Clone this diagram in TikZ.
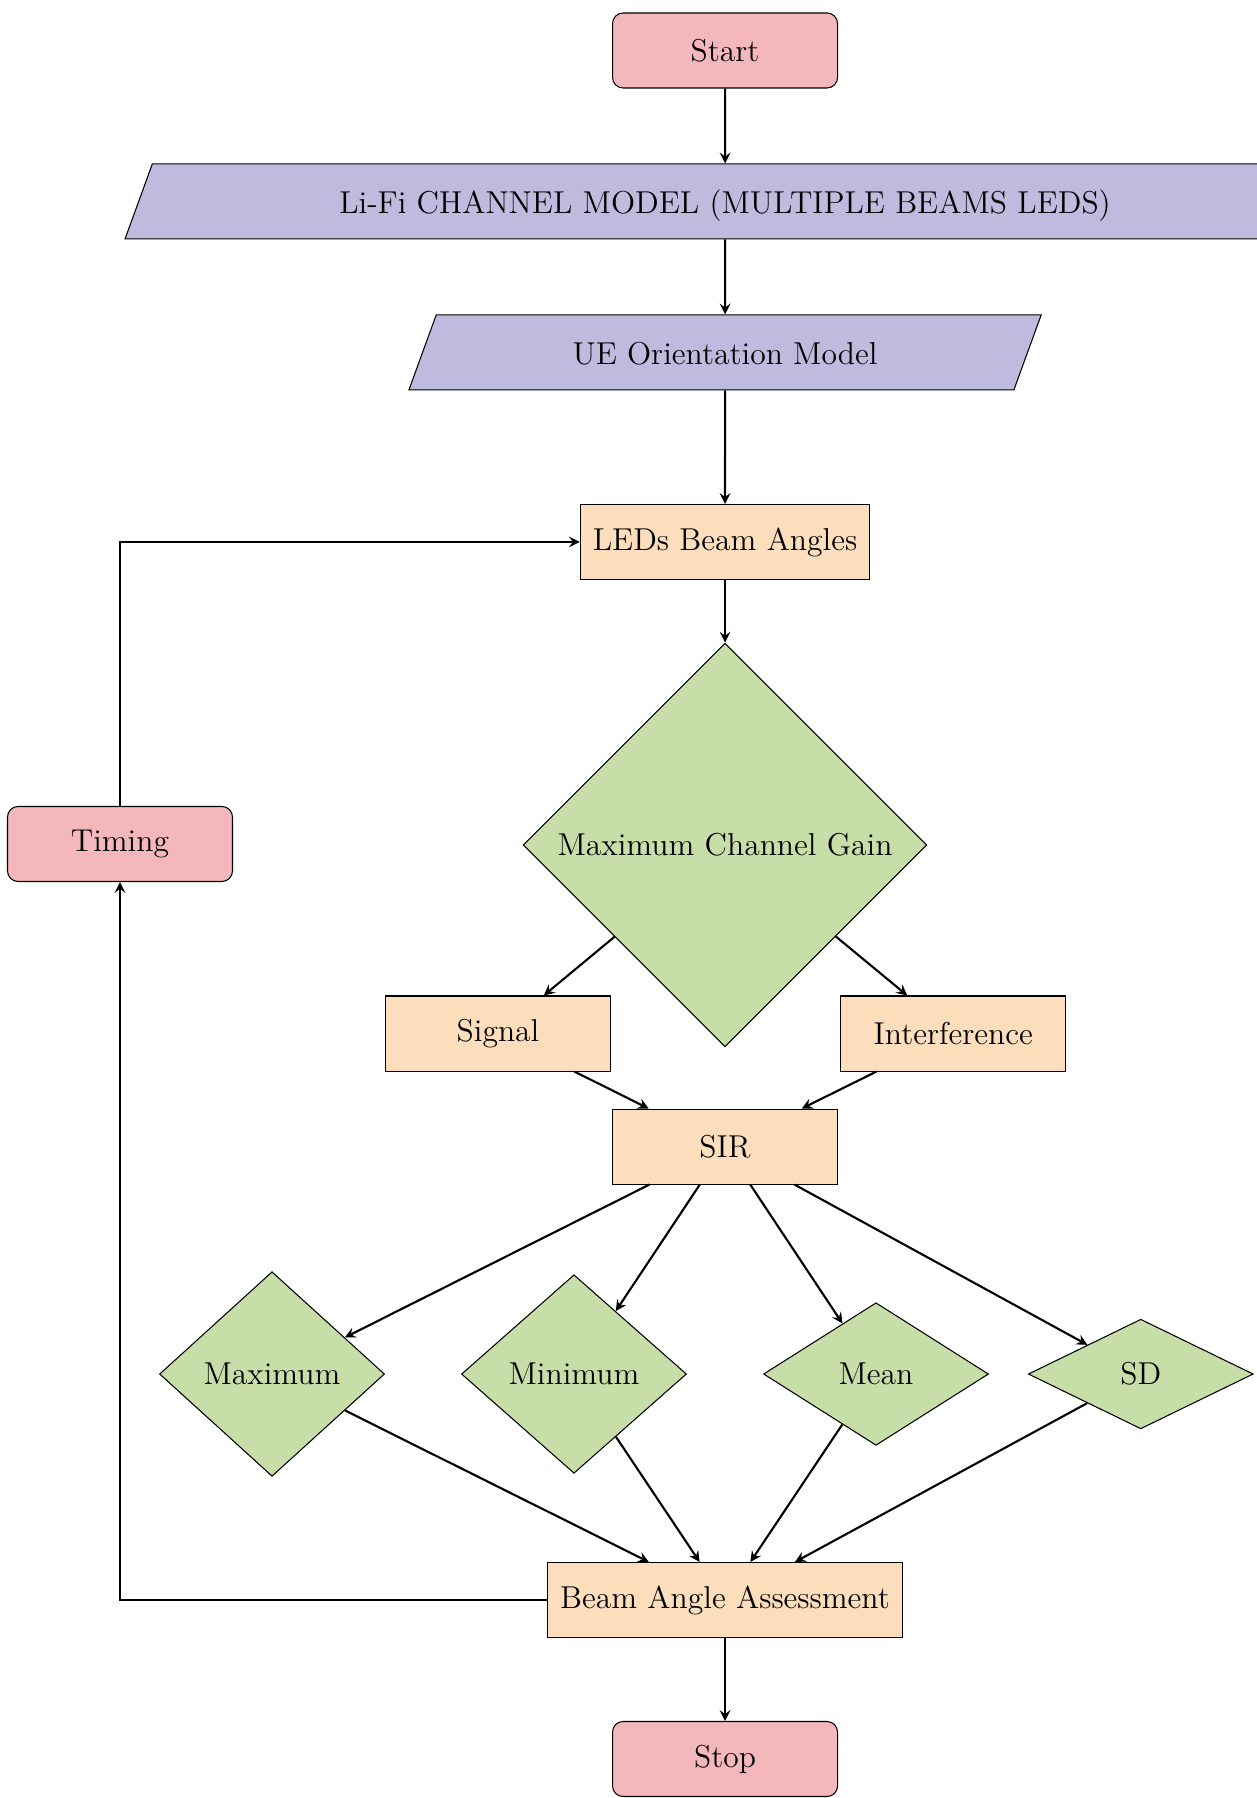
\documentclass[tikz,border=0pt]{standalone}
\usepackage{tikz}
\usetikzlibrary{arrows,calc}
\usetikzlibrary{positioning,shapes}
\definecolor{termpink}{RGB}{244,184,188}
\definecolor{iolilac}{RGB}{191,187,222}
\definecolor{procpeach}{RGB}{252,222,189}
\definecolor{decgreen}{RGB}{199,222,169}
\tikzstyle{line}=[->, >=stealth, thick]
\tikzstyle{terminal}=[rectangle, draw, fill=termpink, text=black,
		minimum width=3cm, minimum height=1cm, rounded corners=4pt, font=\large]
\tikzstyle{inout}=[trapezium, trapezium left angle=70, trapezium right angle=110,
		trapezium stretches body, draw, fill=iolilac, text=black,
		text height=0.36cm, text depth=0.04cm, inner ysep=0.3cm, font=\large]
\tikzstyle{process}=[rectangle, draw, fill=procpeach, text=black,
		minimum width=3cm, minimum height=1cm, inner sep=4.75pt, font=\large]
\tikzstyle{decision}=[diamond, draw, fill=decgreen, text=black,
		minimum width=3cm, inner sep=4.35pt, font=\large]

\begin{document}
\begin{tikzpicture}

  \useasboundingbox (0,0) rectangle (16.747,-23.973);

    \node (Start) [terminal] at (9.667,-0.673) {Start};

    \node (Chan) [inout, minimum width=16cm, below of=Start,
    		      node distance=2.013cm] {Li-Fi CHANNEL MODEL (MULTIPLE BEAMS LEDS)};

    \node (Orient) [inout, minimum width=8.43cm, below of=Chan,
    		      node distance=2.013cm] {UE Orientation Model};

    \node (Beam) [process, below of=Orient, node distance=2.527cm] {LEDs Beam Angles};

    \node (Gain) [decision, below of=Beam, node distance=4.04cm] {Maximum Channel Gain};

    \node (Timing) [terminal] at (1.6,-11.253) {Timing};

%    signal and interference split
    \node (Sig) [process] at (6.64,-13.78) {Signal};
    \node (Intf) [process] at (12.71,-13.78) {Interference};

    \node (Sir) [process] at (9.667,-15.287) {SIR};

%    statistics
    \node (Max) [decision] at (3.627,-18.32) {Maximum};
    \node (Min) [decision] at (7.653,-18.32) {Minimum};
    \node (Mean) [decision] at (11.68,-18.32) {Mean};
    \node (Sd) [decision] at (15.21,-18.32) {SD};

    \node (Assess) [process] at (9.667,-21.333) {Beam Angle Assessment};

    \node (Stop) [terminal, below of=Assess, node distance=2.12cm] {Stop};


    \draw [line] (Start) -- (Chan);
    \draw [line] (Chan) -- (Orient);
    \draw [line] (Orient) -- (Beam);
    \draw [line] (Beam) -- (Gain);
    \draw [line] (Gain) -- (Sig);
    \draw [line] (Gain) -- (Intf);
    \draw [line] (Sig) -- (Sir);
    \draw [line] (Intf) -- (Sir);

    \draw [line] (Sir) -- (Max);
    \draw [line] (Sir) -- (Min);
    \draw [line] (Sir) -- (Mean);
    \draw [line] (Sir) -- (Sd);

    \draw [line] (Max) -- (Assess);
    \draw [line] (Min) -- (Assess);
    \draw [line] (Mean) -- (Assess);
    \draw [line] (Sd) -- (Assess);

    \draw [line] (Assess) -- (Stop);

%    feedback loop
    \draw [line] (Assess.west) -| (Timing.south);
    \draw [line] (Timing.north) |- (Beam.west);

  \end{tikzpicture}
\end{document}
